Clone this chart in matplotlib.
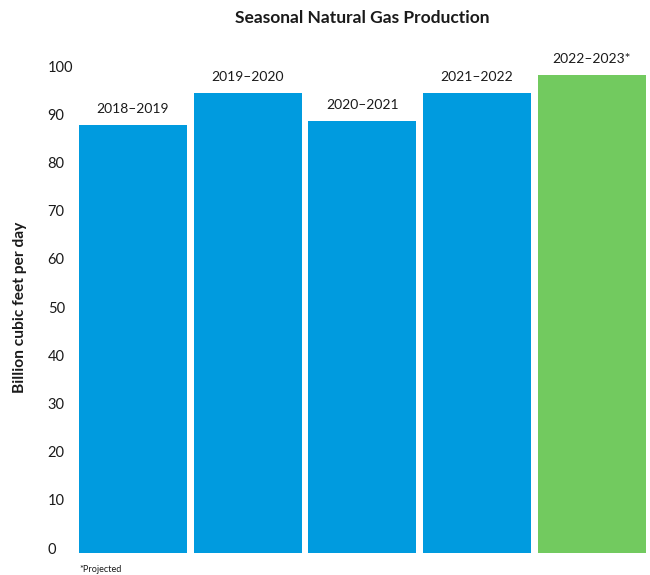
import matplotlib
matplotlib.use('Agg')
import matplotlib.pyplot as plt

seasons = ['2018–2019', '2019–2020', '2020–2021', '2021–2022', '2022–2023*']
production = [87.8, 94.5, 88.7, 94.5, 98.1]
colors = ['#009bdf', '#009bdf', '#009bdf', '#009bdf', '#72ca5f']
yticks = list(range(0, 101, 10))

plt.rcParams['font.family'] = ['Lato', 'DejaVu Sans']
text_color = '#1a1a1a'

fig = plt.figure(figsize=(6.5, 5.75), dpi=100)
ax = fig.add_axes([0.1215, 0.0383, 0.872, 0.872])

width = 0.941
base = -1.0
x = list(range(len(seasons)))
bars = ax.bar(x, [v - base for v in production], bottom=base, width=width, color=colors)

for xi, v, label in zip(x, production, seasons):
    ax.annotate(label, (xi, v), xytext=(0, 11.5), textcoords='offset points',
                ha='center', va='center', fontsize=10, color=text_color)

ax.set_xlim(-width / 2, len(seasons) - 1 + width / 2)
ax.set_ylim(base, 103)
ax.set_xticks([])
ax.set_yticks(yticks)
ax.set_yticklabels([str(t) for t in yticks], ha='left', fontsize=10.5, color=text_color)
ax.tick_params(axis='y', length=0, pad=22.5)
for s in ax.spines.values():
    s.set_visible(False)

ax.set_ylabel('Billion cubic feet per day', fontsize=11.2, fontweight='bold', color=text_color)
ax.yaxis.set_label_coords(-0.092, 0.49)

fig.text(0.5577, 1 - 18 / 575, 'Seasonal Natural Gas Production', ha='center', va='center',
         fontsize=12.5, fontweight='bold', color=text_color)
fig.text(79 / 650, 1 - 569 / 575, '*Projected', ha='left', va='center', fontsize=6.6, color=text_color)

fig.savefig('out.png', dpi=100)
